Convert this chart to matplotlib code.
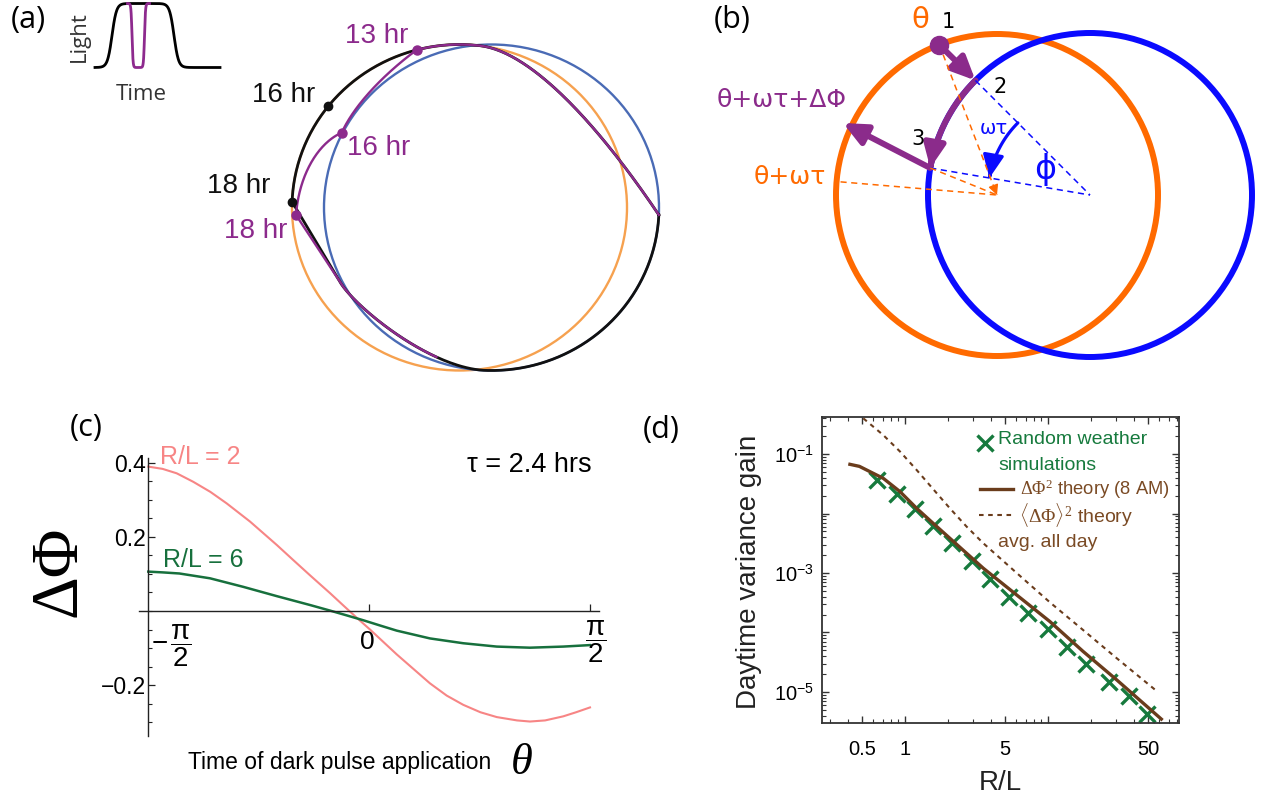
import numpy as np
import matplotlib
matplotlib.use("Agg")
import matplotlib.pyplot as plt
from matplotlib import font_manager, transforms
from matplotlib.patches import Ellipse, Circle, FancyArrowPatch
from matplotlib.path import Path
from matplotlib.ticker import MultipleLocator, LogLocator, NullFormatter

# ---------------------------------------------------------------- data
# (c) phase shift caused by a dark pulse (tau = 2.4 h) applied at phase theta
theta_rl2 = [-1.571, -1.47, -1.369, -1.251, -1.13, -1.014, -0.848, -0.658, -0.54, -0.421,
             -0.279, -0.185, -0.090, 0.005, 0.195, 0.431, 0.55, 0.668, 0.79, 0.906,
             1.05, 1.142, 1.25, 1.379, 1.47, 1.569]
dphi_rl2 = [0.389, 0.383, 0.371, 0.348, 0.321, 0.290, 0.241, 0.178, 0.137, 0.096,
            0.048, 0.015, -0.018, -0.050, -0.117, -0.195, -0.228, -0.253, -0.273, -0.286,
            -0.295, -0.298, -0.295, -0.284, -0.273, -0.260]
theta_rl6 = [-1.571, -1.47, -1.35, -1.132, -0.896, -0.658, -0.421, -0.279, -0.160, -0.043,
             0.075, 0.195, 0.431, 0.668, 0.906, 1.142, 1.379, 1.569]
dphi_rl6 = [0.106, 0.104, 0.101, 0.088, 0.065, 0.040, 0.016, 0.001, -0.012, -0.025,
            -0.039, -0.053, -0.074, -0.087, -0.096, -0.099, -0.096, -0.092]
c_yticks = [-0.2, 0.2, 0.4]
c_yticklabels = ["\u22120.2", "0.2", "0.4"]

# (d) daytime variance gain versus R/L
rl_sim = [0.634, 0.875, 1.175, 1.578, 2.12, 2.93, 3.93, 5.36, 7.28, 9.95, 13.5, 18.5, 26.5, 36.8, 49.2]
gain_sim = [0.0366, 0.0210, 0.0118, 0.0062, 0.0032, 0.0016, 7.8e-4, 3.9e-4, 2.1e-4,
            1.13e-4, 5.8e-5, 2.9e-5, 1.5e-5, 8.5e-6, 4.2e-6]
rl_theory = [0.412, 0.48, 0.569, 0.705, 0.923, 1.207, 1.578, 2.06, 3.53, 6.04, 10.33, 17.6, 30.2, 62]
gain_theory = [0.0671, 0.062, 0.0505, 0.039, 0.0233, 0.0122, 6.8e-3, 3.83e-3, 1.2e-3,
               4.27e-4, 1.52e-4, 4.8e-5, 1.6e-5, 3.5e-6]
rl_avg = [0.511, 0.705, 0.923, 1.207, 1.578, 2.06, 2.70, 3.53, 6.04, 10.33, 17.6, 30.2, 58]
gain_avg = [0.398, 0.208, 0.110, 0.0538, 0.0255, 0.01222, 6.0e-3, 3.16e-3, 1.0e-3,
            3.2e-4, 1.1e-4, 3.7e-5, 1.02e-5]
d_xticks = [0.5, 1, 5, 10, 50]
d_xticklabels = ["0.5", "1", "5", "", "50"]
d_yticks = [1e-5, 1e-4, 1e-3, 1e-2, 1e-1]
d_yticklabels = [r"$\mathsf{10^{-5}}$", "", r"$\mathsf{10^{-3}}$", "", r"$\mathsf{10^{-1}}$"]

# ---------------------------------------------------------------- style
available = {f.name for f in font_manager.fontManager.ttflist}
NARROW = "Liberation Sans Narrow" if "Liberation Sans Narrow" in available else "Liberation Sans"
plt.rcParams["font.family"] = ["Liberation Sans", "DejaVu Sans"]
plt.rcParams["mathtext.fontset"] = "custom"
plt.rcParams["mathtext.rm"] = "Liberation Serif"
plt.rcParams["mathtext.it"] = "Liberation Serif:italic"
plt.rcParams["mathtext.bf"] = "Liberation Serif:bold"
plt.rcParams["mathtext.sf"] = "Liberation Sans"

W, H, DPI = 1266, 799, 100
fig = plt.figure(figsize=(W / DPI, H / DPI), dpi=DPI)


def fig_box(x0, y0, x1, y1):
    return [x0 / W, 1 - y1 / H, (x1 - x0) / W, (y1 - y0) / H]


# ================================================================ (c)
PINK = "#f78585"
GREEN_C = "#17703d"
ax_c = fig.add_axes(fig_box(139.3, 458.1, 599.0, 736.0))
ax_c.plot(theta_rl2, dphi_rl2, color=PINK, lw=1.5)
ax_c.plot(theta_rl6, dphi_rl6, color=GREEN_C, lw=1.8)
ax_c.set_xlim(-1.635, 1.633)
ax_c.set_ylim(-0.337, 0.412)
ax_c.spines["left"].set_position(("data", -np.pi / 2))
ax_c.spines["bottom"].set_position(("data", 0))
for s in ("top", "right"):
    ax_c.spines[s].set_visible(False)
for s in ("left", "bottom"):
    ax_c.spines[s].set_linewidth(1.0)
    ax_c.spines[s].set_color("#222222")
ax_c.set_yticks(c_yticks, c_yticklabels)
ax_c.yaxis.set_minor_locator(MultipleLocator(0.05))
ax_c.set_xticks([0, np.pi / 2], ["", ""])
ax_c.tick_params(axis="both", which="major", direction="in", length=5, width=0.9,
                 color="#222222", pad=2)
ax_c.tick_params(axis="y", which="minor", direction="in", length=3, width=0.8, color="#222222")
for lab in ax_c.get_yticklabels():
    lab.set_fontsize(16.5)
    lab.set_family(NARROW)


def off(ax, dx, dy):
    return transforms.offset_copy(ax.transData, fig=fig, x=dx, y=dy, units="dots")


ax_c.text(-np.pi / 2, 0, r"$\mathsf{-\,\dfrac{\pi}{2}}$", transform=off(ax_c, 23, -35),
          ha="center", va="center", fontsize=20)
ax_c.text(0, 0, "0", transform=off(ax_c, -2, -31), ha="center", va="center",
          fontsize=19, family=NARROW)
ax_c.text(np.pi / 2, 0, r"$\mathsf{\dfrac{\pi}{2}}$", transform=off(ax_c, 5, -31),
          ha="center", va="center", fontsize=20)
ax_c.text(-1.488, 0.415, "R/L = 2", color=PINK, fontsize=18, family=NARROW,
          ha="left", va="center")
ax_c.text(-1.467, 0.137, "R/L = 6", color=GREEN_C, fontsize=18, family=NARROW,
          ha="left", va="center")
ax_c.text(1.583, 0.394, "\u03c4 = 2.4 hrs", color="black", fontsize=19.5, family=NARROW,
          ha="right", va="center")

# ================================================================ (d)
BROWN = "#6a3c1c"
BROWN_TXT = "#7a4a24"
GREEN_D = "#167a3d"
ax_d = fig.add_axes(fig_box(822, 417, 1179, 723))
ax_d.set_xscale("log")
ax_d.set_yscale("log")
ax_d.plot(rl_avg, gain_avg, color=BROWN, lw=1.5, ls=(0, (2.2, 2.2)))
ax_d.plot(rl_sim, gain_sim, ls="none", marker="x", ms=11, mew=2.4, color=GREEN_D)
ax_d.plot(rl_theory, gain_theory, color=BROWN, lw=2.4)
ax_d.set_xlim(0.2628, 82.4)
ax_d.set_ylim(3.01e-6, 0.419)
ax_d.set_xticks(d_xticks, d_xticklabels)
ax_d.set_yticks(d_yticks, d_yticklabels)
ax_d.xaxis.set_minor_locator(LogLocator(base=10, subs=np.arange(2, 10)))
ax_d.yaxis.set_minor_locator(LogLocator(base=10, subs=np.arange(2, 10)))
ax_d.xaxis.set_minor_formatter(NullFormatter())
ax_d.yaxis.set_minor_formatter(NullFormatter())
ax_d.tick_params(which="both", direction="in", top=True, right=True, color="#333333")
ax_d.tick_params(which="major", length=5, width=1.0, labelsize=14.5)
ax_d.tick_params(which="minor", length=3, width=0.8)
ax_d.tick_params(axis="x", which="major", pad=12)
ax_d.tick_params(axis="y", which="major", pad=6)
for s in ax_d.spines.values():
    s.set_linewidth(1.3)
    s.set_color("#333333")

tA = ax_d.transAxes
ax_d.plot([0.4566], [0.915], ls="none", marker="x", ms=11, mew=2.4, color=GREEN_D,
          transform=tA, clip_on=False)
leg = dict(fontsize=14, transform=tA, va="center", ha="left")
ax_d.text(0.493, 0.925, "Random weather", color=GREEN_D, **leg)
ax_d.text(0.493, 0.843, "simulations", color=GREEN_D, **leg)
ax_d.plot([0.4426, 0.535], [0.765, 0.765], color=BROWN, lw=2.4, transform=tA, clip_on=False)
ax_d.text(0.5546, 0.765, r"$\Delta\Phi^2$ theory (8 AM)", color=BROWN_TXT, fontsize=13.2,
          transform=tA, va="center", ha="left")
ax_d.plot([0.44, 0.535], [0.680, 0.680], color=BROWN, lw=1.5, ls=(0, (2.2, 2.2)),
          transform=tA, clip_on=False)
ax_d.text(0.552, 0.680, r"$\langle\Delta\Phi\rangle^2$ theory", color=BROWN_TXT, **leg)
ax_d.text(0.493, 0.5915, "avg. all day", color=BROWN_TXT, **leg)

# ================================================================ overlay (a), (b), labels
ov = fig.add_axes([0, 0, 1, 1], zorder=10)
ov.set_xlim(0, W)
ov.set_ylim(H, 0)
ov.axis("off")

fig_lbl = dict(family=["Open Sans", "DejaVu Sans"], fontsize=22, ha="center", va="center")
ov.text(28, 20, "(a)", **fig_lbl)
ov.text(732, 20, "(b)", **fig_lbl)
ov.text(86, 428, "(c)", **fig_lbl)
ov.text(661, 430, "(d)", **fig_lbl)

# axis titles of (c) and (d)
ov.text(59, 571, "\u0394\u03a6", family="Liberation Serif", fontsize=48, rotation=90,
        ha="center", va="center")
ov.text(188, 762, "Time of dark pulse application", family=NARROW, fontsize=16.5,
        ha="left", va="center")
ov.text(522, 763, "\u03b8", family="Liberation Serif", style="italic", fontsize=32,
        ha="center", va="center")
ov.text(749, 572, "Daytime variance gain", fontsize=20, rotation=90, ha="center", va="center",
        color="#222222")
ov.text(1000, 783, "R/L", fontsize=20, ha="center", va="center", color="#222222")

# ---------------- (a) light schedule sketch
t_sched = np.linspace(95, 220, 500)
sched_low, sched_high = 67.5, 3.5
dawn, dusk, ramp = 112, 174, 4.5
day = 0.5 * (np.tanh((t_sched - dawn) / ramp) - np.tanh((t_sched - dusk) / ramp))
ov.plot(t_sched, sched_low + (sched_high - sched_low) * day, color="black", lw=2.0)
t_pulse = np.linspace(127.5, 149.5, 200)
pulse_on, pulse_off, pulse_ramp = 132.0, 144.5, 1.0
dark = 0.5 * (np.tanh((t_pulse - pulse_on) / pulse_ramp) - np.tanh((t_pulse - pulse_off) / pulse_ramp))
ov.plot(t_pulse, sched_high + (sched_low - sched_high) * dark, color="#8e2a8e", lw=2.0)
ov.text(79, 37, "Light", family=["Open Sans", "DejaVu Sans"], fontsize=16, rotation=90,
        ha="center", va="center", color="#333333")
ov.text(141, 94, "Time", family=["Open Sans", "DejaVu Sans"], fontsize=16,
        ha="center", va="center", color="#333333")

# ---------------- (a) limit cycles in light and dark
ORANGE_A = "#f6a14f"
BLUE_A = "#4a6bb5"
PURPLE = "#8c2a8c"
light_c = (459.5, 207.5)
dark_c = (491.5, 207.5)
RA, RB = 167.5, 163.0

ov.add_patch(Ellipse(light_c, 2 * RA, 2 * RB, fill=False, ec=ORANGE_A, lw=1.7))
ov.add_patch(Ellipse(dark_c, 2 * RA, 2 * RB, fill=False, ec=BLUE_A, lw=1.7))


def on_ellipse(c, deg):
    t = np.radians(deg)
    return np.array([c[0] + RA * np.cos(t), c[1] - RB * np.sin(t)])


def ellipse_arc(c, d0, d1, n=120):
    t = np.radians(np.linspace(d0, d1, n))
    return np.column_stack([c[0] + RA * np.cos(t), c[1] - RB * np.sin(t)])


def bezier(p0, p1, p2, p3, n=80, tmax=1.0):
    t = np.linspace(0, tmax, n)[:, None]
    p0, p1, p2, p3 = (np.asarray(p, float) for p in (p0, p1, p2, p3))
    return (1 - t) ** 3 * p0 + 3 * (1 - t) ** 2 * t * p1 + 3 * (1 - t) * t ** 2 * p2 + t ** 3 * p3


dusk_pt = on_ellipse(dark_c, -2.6)
top_join = on_ellipse(light_c, 84)
p16 = on_ellipse(light_c, 141.7)
p18 = on_ellipse(light_c, 178)
knee = np.array([340.0, 282.0])
bottom = on_ellipse(dark_c, -92)

rise = bezier(dusk_pt, (632, 175), (545, 50), top_join)
fall_curve = bezier(knee, (355.5, 307.7), (430.6, 368.5), bottom)
black_cycle = np.vstack([rise, ellipse_arc(light_c, 84, 178), [p18, knee], fall_curve,
                         ellipse_arc(dark_c, -92, -2.6)])
ov.plot(black_cycle[:, 0], black_cycle[:, 1], color="#111111", lw=2.0,
        solid_joinstyle="round")

p13 = on_ellipse(light_c, 104.8)
p16_pulse = np.array([341.7, 132.7])
p18_pulse = np.array([296.0, 215.0])
purple_path = np.vstack([
    rise,
    ellipse_arc(light_c, 84, 104.8, 30),
    bezier(p13, (391.7, 68.2), (356.7, 100), p16_pulse),
    bezier(p16_pulse, (318, 143), (299, 175), p18_pulse),
    [knee],
    bezier(knee, (355.5, 307.7), (430.6, 368.5), bottom, tmax=0.72),
])
ov.plot(purple_path[:, 0], purple_path[:, 1], color=PURPLE, lw=1.7, solid_joinstyle="round")

for p in (p16, p18):
    ov.plot(*p, marker="o", ms=6, color="#111111", zorder=5)
for p in (p13, p16_pulse, p18_pulse):
    ov.plot(*p, marker="o", ms=6.5, color=PURPLE, zorder=5)

hr = dict(fontsize=20, ha="left", va="baseline")
ov.text(252, 102, "16 hr", color="#111111", **hr)
ov.text(207, 193, "18 hr", color="#111111", **hr)
ov.text(224, 238, "18 hr", color=PURPLE, **hr)
ov.text(345, 43, "13 hr", color=PURPLE, **hr)
ov.text(347, 155, "16 hr", color=PURPLE, **hr)

# ---------------- (b) phase shift geometry
ORANGE_B = "#ff6a00"
BLUE_B = "#0a0aff"
PURPLE_B = "#8b2b8b"
OC = np.array([997.0, 195.0])
BC = np.array([1090.0, 195.0])
R_OR, R_BL = 161.0, 162.0


def circ_pt(c, r, deg):
    t = np.radians(deg)
    return np.array([c[0] + r * np.cos(t), c[1] - r * np.sin(t)])


ov.add_patch(Circle(OC, R_OR, fill=False, ec=ORANGE_B, lw=4.3))
ov.add_patch(Circle(BC, R_BL, fill=False, ec=BLUE_B, lw=4.3))

P1 = circ_pt(OC, R_OR, 111)
P2 = circ_pt(BC, R_BL, 135)
P3 = circ_pt(BC, R_BL, 170.4)
P_out = np.array([843.0, 123.0])
P_wt = circ_pt(OC, 157, 175.2)

dash = dict(lw=1.1, ls=(0, (4, 3)))
for p in (P2, P3):
    ov.plot([p[0], BC[0]], [p[1], BC[1]], color=BLUE_B, **dash)
for p in (P1, P3, P_wt):
    ov.plot([p[0], OC[0]], [p[1], OC[1]], color=ORANGE_B, **dash)
u = (OC - P1) / np.linalg.norm(OC - P1)
ov.annotate("", xy=OC, xytext=OC - 9 * u,
            arrowprops=dict(arrowstyle="-|>,head_length=0.5,head_width=0.25",
                            color=ORANGE_B, lw=1.0, mutation_scale=12, shrinkA=0, shrinkB=0))


def arc_path(c, r, a0, a1, n=60):
    a = np.radians(np.linspace(a0, a1, n))
    verts = np.column_stack([c[0] + r * np.cos(a), c[1] - r * np.sin(a)])
    return Path(verts, [Path.MOVETO] + [Path.LINETO] * (n - 1))


head = "-|>,head_length=0.7,head_width=0.32"
ov.add_patch(FancyArrowPatch(path=arc_path(BC, 102, 135, 170.4), arrowstyle=head,
                             mutation_scale=20, lw=2.3, color=BLUE_B))
ov.add_patch(FancyArrowPatch(P1, P2, arrowstyle=head, mutation_scale=20, lw=4.3,
                             color=PURPLE_B, shrinkA=0, shrinkB=0))
ov.add_patch(FancyArrowPatch(path=arc_path(BC, R_BL, 135, 170.4), arrowstyle=head,
                             mutation_scale=20, lw=4.3, color=PURPLE_B))
ov.add_patch(FancyArrowPatch(P3, P_out, arrowstyle=head, mutation_scale=20, lw=4.3,
                             color=PURPLE_B, shrinkA=0, shrinkB=0))
ov.plot(*P1, marker="o", ms=13, color=PURPLE_B, zorder=6)

dj = dict(family="DejaVu Sans", ha="center", va="center")
ov.text(920, 20, "\u03b8", color=ORANGE_B, fontsize=21, **dj)
ov.text(948, 22, "1", color="black", fontsize=15, **dj)
ov.text(1000, 87, "2", color="black", fontsize=15, **dj)
ov.text(918, 139, "3", color="black", fontsize=15, **dj)
ov.text(782, 100, "\u03b8+\u03c9\u03c4+\u0394\u03a6", color=PURPLE_B, fontsize=18, **dj)
ov.text(790, 177, "\u03b8+\u03c9\u03c4", color=ORANGE_B, fontsize=18, **dj)
ov.text(994, 128, "\u03c9\u03c4", color=BLUE_B, fontsize=14, **dj)
ov.text(1045, 170, "\u03d5", color=BLUE_B, fontsize=24, **dj)

fig.savefig("out.png", dpi=DPI)
